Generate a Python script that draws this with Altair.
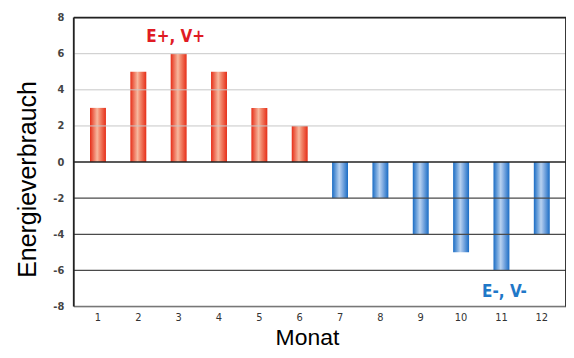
import altair as alt
import pandas as pd

months = [str(m) for m in range(1, 13)]
values = [3, 5, 6, 5, 3, 2, -2, -2, -4, -5, -6, -4]
grid_pos = [6, 4, 2]
grid_neg = [-2, -4, -6]
labels = ["E+, V+", "E-, V-"]
label_month = ["3", "11"]
label_val = [6.95, -7.2]

df = pd.DataFrame({"Monat": months, "Energieverbrauch": values})
gpos = pd.DataFrame({"Energieverbrauch": grid_pos})
gneg = pd.DataFrame({"Energieverbrauch": grid_neg})
ann = pd.DataFrame({"t": labels, "Monat": label_month, "Energieverbrauch": label_val})

W, H = 494, 290

xaxis = alt.Axis(labelAngle=0, ticks=False, domain=False, labelPadding=5,
                 labelFont="DejaVu Sans Condensed", labelFontSize=11,
                 labelColor="#333", titleFont="Liberation Sans",
                 titleFontSize=23, titleFontWeight="normal",
                 titleColor="#000", titleX=234, titleY=38,
                 titleBaseline="alphabetic", titleAlign="center")
xscale = alt.Scale(domain=months, paddingInner=0, paddingOuter=0.1)
xs = alt.X("Monat:O", sort=months, title="Monat", scale=xscale, axis=xaxis)

yscale = alt.Scale(domain=[-8, 8], nice=False)
yaxis = alt.Axis(values=list(range(-8, 9, 2)), ticks=False, domain=False,
                 grid=False, labelPadding=10, labelOverlap=False,
                 labelExpr="'' + datum.value",
                 labelFont="DejaVu Sans Condensed", labelFontSize=11,
                 labelFontWeight="bold", labelColor="#444",
                 titleFont="Liberation Sans", titleFontSize=25,
                 titleFontWeight="normal", titleColor="#000",
                 titleX=-38, titleY=162, titleAngle=270,
                 titleBaseline="alphabetic", titleAlign="center")

def ys():
    return alt.Y("Energieverbrauch:Q", title="Energieverbrauch", scale=yscale, axis=yaxis)

red = alt.Gradient(gradient="linear", x1=0, x2=1, y1=0, y2=0, stops=[
    alt.GradientStop(color="#e62e18", offset=0),
    alt.GradientStop(color="#f7b89e", offset=0.45),
    alt.GradientStop(color="#f2886c", offset=0.62),
    alt.GradientStop(color="#e62e18", offset=1)])
blue = alt.Gradient(gradient="linear", x1=0, x2=1, y1=0, y2=0, stops=[
    alt.GradientStop(color="#1a6cc4", offset=0),
    alt.GradientStop(color="#b8d2f0", offset=0.45),
    alt.GradientStop(color="#8ab2e4", offset=0.62),
    alt.GradientStop(color="#1a6cc4", offset=1)])

grid1 = alt.Chart(gpos).mark_rule(color="#c8c8c8", strokeWidth=1).encode(y=ys())
grid2 = alt.Chart(gneg).mark_rule(color="#4a4a4a", strokeWidth=1.2).encode(y=ys())

base = alt.Chart(df)
pos = base.mark_bar(size=16, color=red).encode(x=xs, y=ys()).transform_filter("datum.Energieverbrauch > 0")
neg = base.mark_bar(size=16, color=blue).encode(x=xs, y=ys()).transform_filter("datum.Energieverbrauch < 0")
zero = alt.Chart(pd.DataFrame({"Energieverbrauch": [0]})).mark_rule(color="#222", strokeWidth=1.5).encode(y=ys())

bottom = alt.Chart(pd.DataFrame({"Energieverbrauch": [-8]})).mark_rule(color="#777", strokeWidth=1.5).encode(y=ys())
top = alt.Chart(pd.DataFrame({"Energieverbrauch": [8]})).mark_rule(color="#222", strokeWidth=1.8).encode(y=ys())
left = alt.Chart(pd.DataFrame({"v": [0]})).mark_rule(color="#222", strokeWidth=1.8).encode(
    x=alt.value(0), y=alt.value(0), y2=alt.value(H))
right = alt.Chart(pd.DataFrame({"v": [0]})).mark_rule(color="#222", strokeWidth=1.8).encode(
    x=alt.value(W), y=alt.value(0), y2=alt.value(H))

txt_base = alt.Chart(ann)
txt1 = txt_base.mark_text(fontWeight="bold", fontSize=17, font="DejaVu Sans Condensed",
                          dx=-3, color="#e01b24").encode(x=xs, y=ys(), text="t:N").transform_filter(
    alt.datum.t == labels[0])
txt2 = txt_base.mark_text(fontWeight="bold", fontSize=17, font="DejaVu Sans Condensed",
                          dx=3, color="#1f78c8").encode(x=xs, y=ys(), text="t:N").transform_filter(
    alt.datum.t == labels[1])

chart = alt.layer(pos, neg, grid1, grid2, zero, bottom, top, left, right, txt1, txt2).properties(
    width=W, height=H,
    autosize=alt.AutoSizeParams(type="none"),
    padding={"left": 66, "top": 9, "right": 0, "bottom": 43},
).configure_view(stroke=None).configure(background="white")

chart.save("out.html", embed_options={"renderer": "svg", "actions": False})
